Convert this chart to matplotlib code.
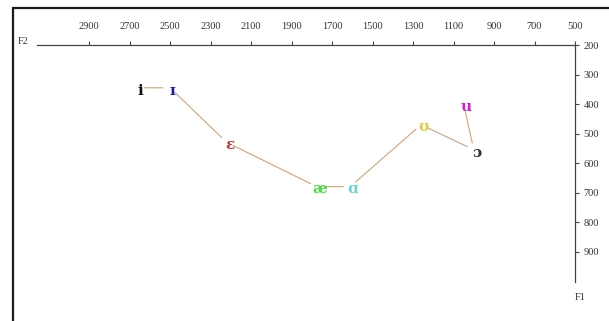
import matplotlib
matplotlib.use("Agg")
import matplotlib.pyplot as plt
from matplotlib.patches import Rectangle

# --- Vowel formant data (Hz) ---
vowels = ['i', 'ɪ', 'ɛ', 'æ', 'ɑ', 'ʊ', 'ɔ', 'u']
f2_hz = [2660, 2500, 2220, 1775, 1610, 1260, 1000, 1050]
f1_hz = [345, 345, 530, 680, 680, 470, 555, 400]
vowel_colors = ['#111111', '#1a1aa8', '#c03a3a', '#3ee03e', '#6fd3d6',
                '#e6c83a', '#333333', '#d21fd2']

f2_ticks = [2900, 2700, 2500, 2300, 2100, 1900, 1700, 1500, 1300, 1100, 900, 700, 500]
f1_ticks = [200, 300, 400, 500, 600, 700, 800, 900]

W, H = 609, 321
fig = plt.figure(figsize=(W / 100, H / 100), dpi=100)
fig.patch.set_facecolor('white')

# axes box in pixels: left 37, right 575, top 45, bottom 282
ax = fig.add_axes([37 / W, 1 - 282 / H, (575 - 37) / W, (282 - 45) / H])
ax.set_xlim(3157, 500)
ax.set_ylim(1003, 200)
ax.set_facecolor('none')

for side in ['left', 'bottom']:
    ax.spines[side].set_visible(False)
for side in ['top', 'right']:
    ax.spines[side].set_color('#444444')
    ax.spines[side].set_linewidth(0.9)

ax.xaxis.tick_top()
ax.yaxis.tick_right()
ax.set_xticks(f2_ticks)
ax.set_yticks(f1_ticks)
ax.set_xticklabels([str(t) for t in f2_ticks])
ax.set_yticklabels([str(t) for t in f1_ticks])
ax.tick_params(axis='x', direction='out', length=3, width=0.8, color='#444444',
               pad=7, labelsize=7.5, labelcolor='#333333')
ax.tick_params(axis='y', direction='out', length=3, width=0.8, color='#444444',
               pad=3, labelsize=7.5, labelcolor='#333333')
for lab in ax.get_xticklabels() + ax.get_yticklabels():
    lab.set_fontfamily('Liberation Serif')

# connecting path between vowels
for k in range(len(vowels) - 1):
    ax.annotate('', xy=(f2_hz[k + 1], f1_hz[k + 1]), xytext=(f2_hz[k], f1_hz[k]),
                arrowprops=dict(arrowstyle='-', color='#cfa47c', lw=0.8,
                                shrinkA=5, shrinkB=5))

# vowel symbols
for v, x, y, c in zip(vowels, f2_hz, f1_hz, vowel_colors):
    ax.annotate(v, (x, y), xytext=(2, -2), textcoords='offset points',
                ha='center', va='center', color=c, fontsize=11, fontweight='bold',
                family=['DejaVu Serif'])

# axis names
fig.text(23 / W, 1 - 42 / H, 'F2', ha='center', va='center', fontsize=7.5,
         family='Liberation Serif', color='#333333')
fig.text(580 / W, 1 - 298 / H, 'F1', ha='center', va='center', fontsize=7.5,
         family='Liberation Serif', color='#333333')

# outer frame
fig.patches.append(Rectangle((13 / W, -0.1), 1.2, 1 - 8 / H + 0.1,
                             transform=fig.transFigure, fill=False,
                             edgecolor='#1a1a1a', linewidth=1.6))

fig.savefig('out.png', dpi=100)
